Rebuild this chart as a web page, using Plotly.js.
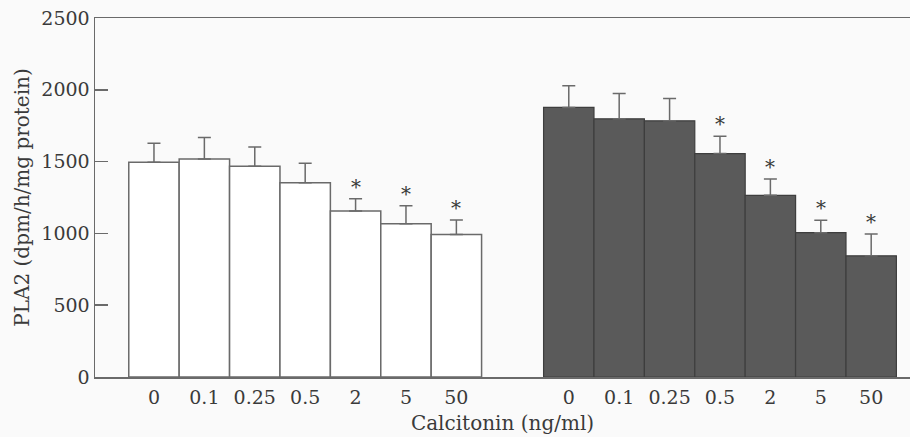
<!DOCTYPE html>
<html>
<head>
<meta charset="utf-8">
<script src="https://cdn.plot.ly/plotly-3.0.1.min.js"></script>
<style>html,body{margin:0;padding:0;background:#fafafa;}</style>
</head>
<body>
<div id="chart" style="width:910px;height:437px;"></div>
<script>
// Data
const doseLabels = ["0", "0.1", "0.25", "0.5", "2", "5", "50"];
const controlValues = [1495, 1518, 1467, 1353, 1156, 1067, 993];
const controlErrors = [133, 149, 135, 135, 86, 126, 100];
const controlSig = [false, false, false, false, true, true, true];
const treatedValues = [1877, 1798, 1784, 1556, 1265, 1005, 844];
const treatedErrors = [151, 176, 155, 121, 114, 86, 151];
const treatedSig = [false, false, false, true, true, true, true];

const GROUP_OFFSET = 8.23;
const xControl = doseLabels.map((_, i) => i);
const xTreated = doseLabels.map((_, i) => i + GROUP_OFFSET);

const lineCol = '#6a6a6a';
const textCol = '#3a3a3a';
const fontFam = 'DejaVu Serif, Liberation Serif, serif';

const traces = [
  {
    type: 'bar', x: xControl, y: controlValues, width: 1,
    marker: {color: '#ffffff', line: {color: lineCol, width: 1.5}},
    error_y: {type: 'data', symmetric: false, array: controlErrors,
      arrayminus: controlErrors.map(() => 0), color: lineCol, thickness: 1.5, width: 6.5},
    hoverinfo: 'skip', showlegend: false
  },
  {
    type: 'bar', x: xTreated, y: treatedValues, width: 1,
    marker: {color: '#5a5a5a', line: {color: '#3e3e3e', width: 1.2}},
    error_y: {type: 'data', symmetric: false, array: treatedErrors,
      arrayminus: treatedErrors.map(() => 0), color: lineCol, thickness: 1.5, width: 6.5},
    hoverinfo: 'skip', showlegend: false
  }
];

const annotations = [];
function addStars(xs, vals, errs, sig) {
  xs.forEach((x, i) => {
    if (sig[i]) {
      annotations.push({x: x, y: vals[i] + errs[i], xref: 'x', yref: 'y',
        text: '*', showarrow: false, yanchor: 'bottom', yshift: -2,
        font: {family: fontFam, size: 20, color: textCol}});
    }
  });
}
addStars(xControl, controlValues, controlErrors, controlSig);
addStars(xTreated, treatedValues, treatedErrors, treatedSig);

const layout = {
  width: 910, height: 437,
  margin: {l: 95, r: 0, t: 18, b: 60},
  paper_bgcolor: '#fafafa', plot_bgcolor: '#fafafa',
  font: {family: fontFam, size: 19, color: textCol},
  bargap: 0,
  xaxis: {
    range: [-1.17, 15.0],
    tickvals: xControl.concat(xTreated),
    ticktext: doseLabels.concat(doseLabels),
    showline: true, linecolor: lineCol, linewidth: 1.5, mirror: true,
    showgrid: false, zeroline: false, ticks: '',
    ticklabelstandoff: 3,
    tickfont: {family: fontFam, size: 19, color: textCol},
    title: {text: 'Calcitonin (ng/ml)', standoff: 8,
      font: {family: fontFam, size: 20, color: textCol}}
  },
  yaxis: {
    range: [0, 2500], dtick: 500, tick0: 0,
    showline: true, linecolor: lineCol, linewidth: 1.5,
    showgrid: false, zeroline: false,
    ticks: 'inside', ticklen: 13, tickwidth: 1.5, tickcolor: lineCol,
    tickfont: {family: fontFam, size: 19, color: textCol},
    title: {text: 'PLA2 (dpm/h/mg protein)', standoff: 6,
      font: {family: fontFam, size: 20, color: textCol}}
  },
  annotations: annotations
};

Plotly.newPlot('chart', traces, layout, {displayModeBar: false, staticPlot: true});
</script>
</body>
</html>
